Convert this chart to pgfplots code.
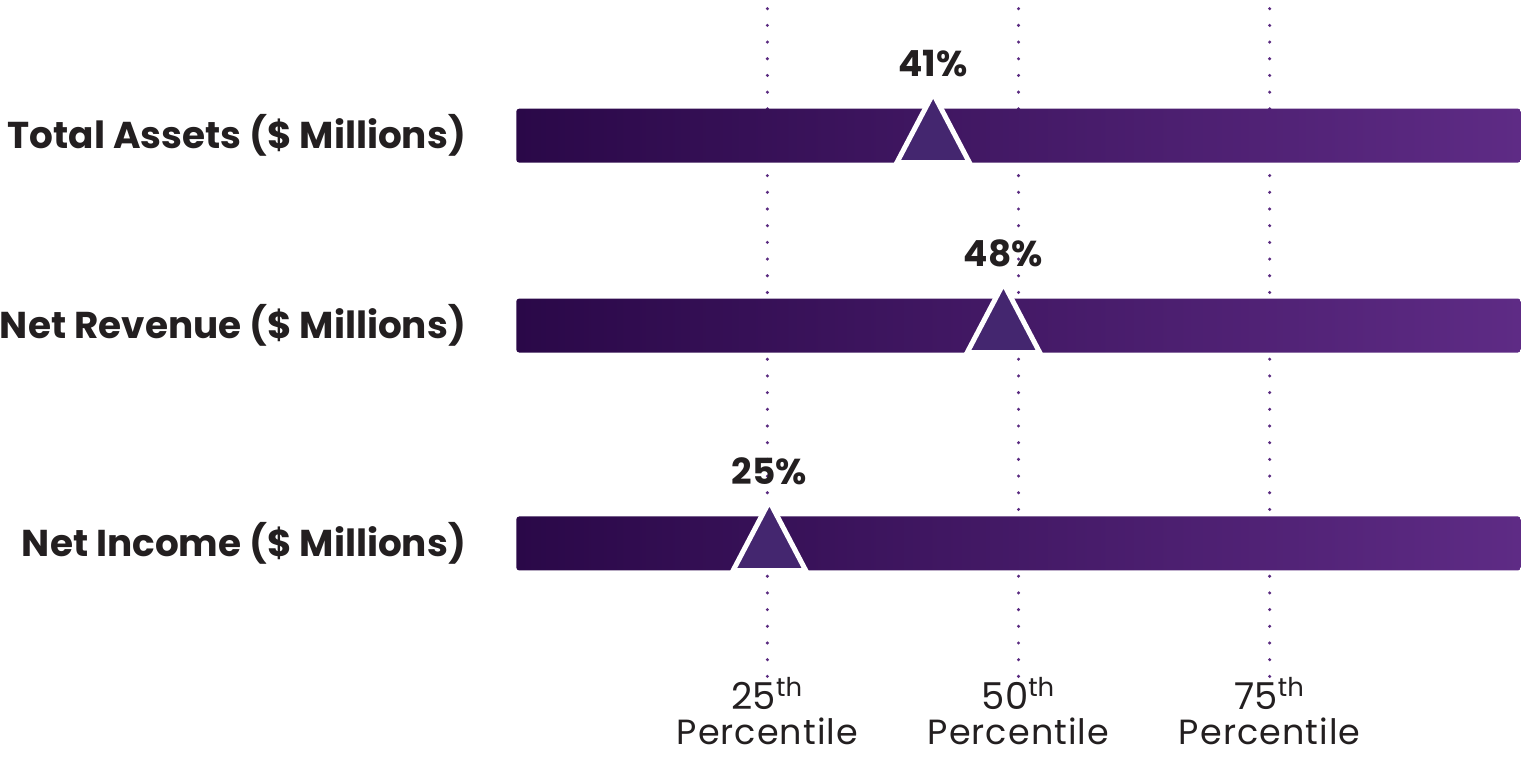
\documentclass[border=0pt]{standalone}
\usepackage{pgfplots}
\pgfplotsset{compat=1.18}
\usepackage{fontspec}
\setmainfont{Poppins}
\newfontfamily\tickfont[LetterSpace=3]{Poppins}
\definecolor{barL}{HTML}{2A0848}
\definecolor{barR}{HTML}{5E2B85}
\definecolor{tri}{HTML}{44266F}
\definecolor{gridc}{HTML}{5A2A80}
\definecolor{txt}{HTML}{231F20}
\newcommand{\pct}[1]{{\fontsize{18.5}{16}\selectfont #1\textsuperscript{th}}\\[1.5pt]{\tickfont\fontsize{17.5}{16}\selectfont Percentile}}
\begin{document}
\begin{tikzpicture}
\begin{axis}[
  name=ax,
  scale only axis,
  width=502.5pt, height=337.5pt,
  xmin=0, xmax=100, ymin=0, ymax=675,
  axis line style={draw=none},
  major tick length=0pt,
  xtick={25,50,75},
  xticklabels={{\pct{25}},{\pct{50}},{\pct{75}}},
  xticklabel style={align=center, font=\fontsize{16}{16}\selectfont, text=txt, inner sep=0pt, yshift=-0.5pt},
  ytick={133,351,541},
  yticklabels={Net Income (\$ Millions), Net Revenue (\$ Millions), Total Assets (\$ Millions)},
  yticklabel style={font=\bfseries\fontsize{18.7}{22}\selectfont, text=txt, inner sep=0pt, xshift=-25pt},
  xmajorgrids,
  grid style={draw=gridc, line width=1.7pt, dash pattern=on 0pt off 8.35pt, line cap=round},
  clip=false,
]
\addplot[xbar, bar width=54, draw=none, left color=barL, right color=barR, rounded corners=1.5pt]
  coordinates {(100,541) (100,351) (100,133)};
\addplot[only marks, mark=triangle*, mark size=21pt,
  mark options={yscale=1.1, fill=tri, draw=white, line width=2.5pt},
  point meta=explicit symbolic,
  nodes near coords={\pgfplotspointmeta},
  nodes near coords style={anchor=base, yshift=31.5pt, font=\bfseries\fontsize{18}{20}\selectfont, text=txt, inner sep=0pt}]
  coordinates {(41.5,537) [41\%] (48.5,347) [48\%] (25.2,129) [25\%]};
\end{axis}
\path (ax.south west) ++(-258pt,-46.5pt) rectangle (ax.north east);
\end{tikzpicture}
\end{document}
